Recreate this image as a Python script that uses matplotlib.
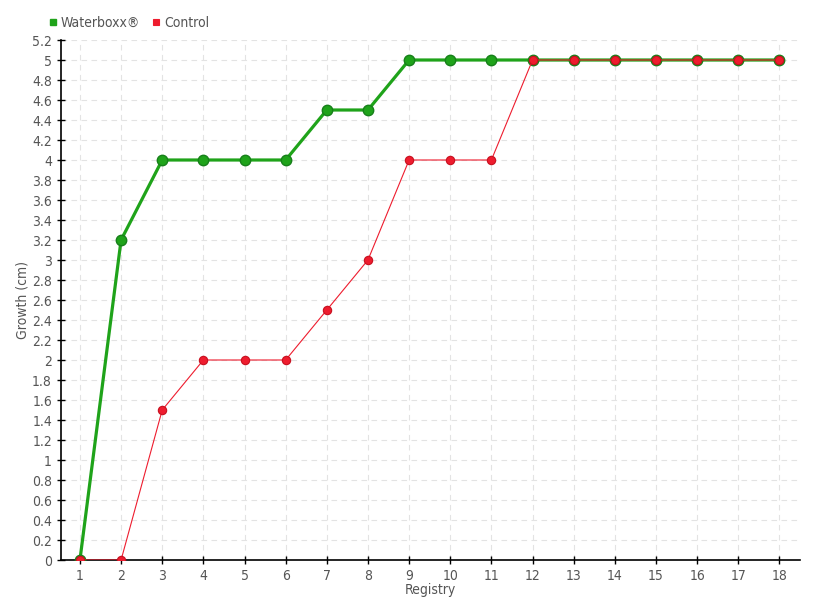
import numpy as np
import matplotlib.pyplot as plt

registry = list(range(1, 19))
waterboxx = [0, 3.2, 4, 4, 4, 4, 4.5, 4.5, 5, 5, 5, 5, 5, 5, 5, 5, 5, 5]
control = [0, 0, 1.5, 2, 2, 2, 2.5, 3, 4, 4, 4, 5, 5, 5, 5, 5, 5, 5]
yticks = np.round(np.arange(0, 5.21, 0.2), 1)

green = '#1fa31a'
red = '#ee1c2e'
txt = '#555555'

plt.rcParams['font.family'] = ['DejaVu Sans']
plt.rcParams['font.stretch'] = 'condensed'

fig = plt.figure(figsize=(8.2, 6), dpi=100)
ax = fig.add_axes([61/820, 40/600, 739/820, 520/600])

ax.plot(registry, waterboxx, color=green, lw=2.3, marker='o', ms=7.5,
        mfc=green, mec='#17801a', mew=1, zorder=3, label='Waterboxx®')
ax.plot(registry, control, color=red, lw=0.8, marker='o', ms=6,
        mfc=red, mec='#c8101f', mew=0.8, zorder=4, label='Control')

ax.set_xlim(0.54, 18.5)
ax.set_ylim(0, 5.2)
ax.set_xticks(registry)
ax.set_yticks(yticks)
ax.set_yticklabels([f'{v:g}' for v in yticks])
ax.grid(True, color='#e3e3e3', ls=(0, (5, 4)), lw=0.8)
ax.set_axisbelow(True)

for s in ['top', 'right']:
    ax.spines[s].set_visible(False)
for s in ['left', 'bottom']:
    ax.spines[s].set_color('black')
    ax.spines[s].set_linewidth(1.2)

ax.tick_params(axis='both', direction='inout', length=6, width=1,
               colors='black', labelcolor=txt, labelsize=10)
ax.set_xlabel('Registry', color=txt, fontsize=10, labelpad=0)
ax.set_ylabel('Growth (cm)', color=txt, fontsize=10, labelpad=2)

ax.legend(loc='lower left', bbox_to_anchor=(-0.03, 1.0), ncol=2, frameon=False,
          handlelength=0.6, handletextpad=0.3, columnspacing=0.8,
          fontsize=10, labelcolor=txt, borderaxespad=0.3)
leg = ax.get_legend()
for h, c in zip(leg.legend_handles, [green, red]):
    h.set_marker('s')
    h.set_linestyle('none')
    h.set_markersize(5)
    h.set_markerfacecolor(c)
    h.set_markeredgecolor(c)

fig.savefig('out.png', dpi=100)
